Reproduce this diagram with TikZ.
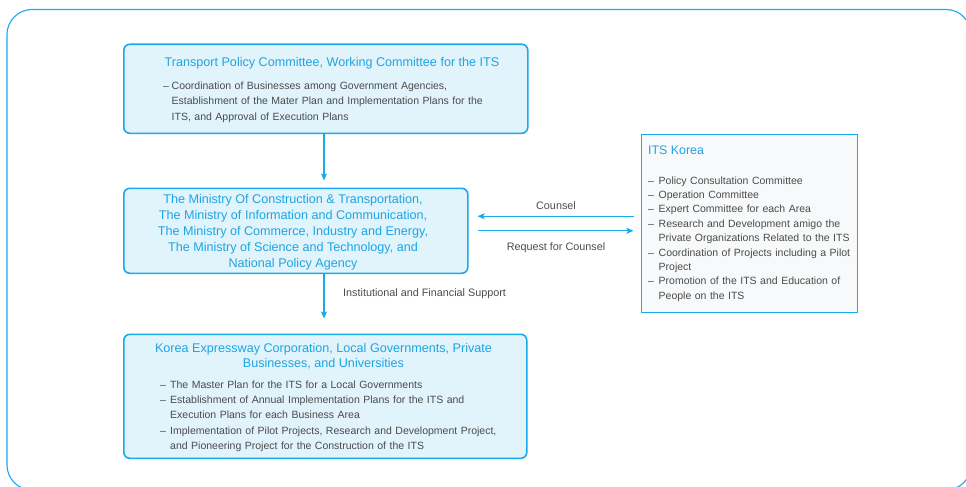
\documentclass[tikz,border=0pt]{standalone}
\usepackage{fontspec}
\setmainfont{Liberation Sans}
\usetikzlibrary{arrows.meta}
\definecolor{itsblue}{RGB}{25,170,235}
\definecolor{titleblue}{RGB}{30,165,228}
\definecolor{boxfill}{RGB}{225,243,251}
\definecolor{greyfill}{RGB}{248,249,250}
\definecolor{bodygrey}{RGB}{75,75,75}
\newlength{\dashind}
\setlength{\dashind}{8.5pt}
\newcommand{\dashitem}[1]{\hangindent=\dashind\hangafter=1\noindent\makebox[\dashind][l]{–}#1\par}
\begin{document}
\begin{tikzpicture}[x=1pt,y=-1pt,
  frame/.style={draw=itsblue, line width=1.1pt, rounded corners=25pt},
  bluebox/.style={draw=itsblue, fill=boxfill, line width=1.6pt, rounded corners=6pt},
  greybox/.style={draw=itsblue, fill=greyfill, line width=1.5pt},
  titletext/.style={text=titleblue, inner sep=0pt},
  bodytext/.style={text=bodygrey, inner sep=0pt, anchor=base west, align=left},
  lbl/.style={text=bodygrey, font=\fontsize{10.8}{13}\selectfont, inner sep=0pt},
  arr/.style={draw=itsblue, line width=1.2pt, -{Stealth[length=7pt,width=6pt,inset=1.5pt]}},
]
\useasboundingbox (0,0) rectangle (966,487);
\clip (0,0) rectangle (966,487);
\draw[frame] (7,9.5) rectangle (971,490);

% boxes
\node[bluebox, minimum width=404pt, minimum height=89pt, anchor=north west] (box1) at (123,43.5) {};
\node[bluebox, minimum width=344pt, minimum height=85pt, anchor=north west] (box2) at (123,187.5) {};
\node[bluebox, minimum width=403pt, minimum height=124pt, anchor=north west] (box4) at (123,333.5) {};
\node[greybox, minimum width=216pt, minimum height=178pt, anchor=north west] (its) at (640.5,133.5) {};

% box1 text
\node[titletext, anchor=base, font=\fontsize{12.6}{16}\selectfont] (t1) at (332,66.5)
  {Transport Policy Committee, Working Committee for the ITS};
\node[bodytext, text width=380pt, font=\fontsize{10.5}{15.5}\selectfont] (b1) at (163,89)
  {\setlength{\dashind}{8.5pt}\dashitem{Coordination of Businesses among Government Agencies,\newline Establishment of the Mater Plan and Implementation Plans for the\newline ITS, and Approval of Execution Plans}};

% box2 text (base anchor = last line)
\node[titletext, anchor=base, align=center, font=\fontsize{12.6}{16}\selectfont] (t2) at (293,267)
  {The Ministry Of Construction \& Transportation,\\
   The Ministry of Information and Communication,\\
   The Ministry of Commerce, Industry and Energy,\\
   The Ministry of Science and Technology, and\\
   National Policy Agency};

% box4 text
\node[titletext, anchor=base, align=center, font=\fontsize{12.6}{15}\selectfont] (t4) at (323.5,367.8)
  {Korea Expressway Corporation, Local Governments, Private\\
   Businesses, and Universities};
\node[bodytext, text width=390pt, font=\fontsize{10.5}{15.4}\selectfont] (b4) at (160,388)
  {\setlength{\dashind}{10pt}%
   \dashitem{The Master Plan for the ITS for a Local Governments}%
   \dashitem{Establishment of Annual Implementation Plans for the ITS and\newline Execution Plans for each Business Area}%
   \dashitem{Implementation of Pilot Projects, Research and Development Project,\newline and Pioneering Project for the Construction of the ITS}};

% ITS Korea text
\node[titletext, anchor=base west, font=\fontsize{12.4}{16}\selectfont] (t3) at (648,154.5) {ITS Korea};
\node[bodytext, text width=205pt, font=\fontsize{10.5}{14.4}\selectfont] (b3) at (648,184)
  {\setlength{\dashind}{10.5pt}%
   \dashitem{Policy Consultation Committee}%
   \dashitem{Operation Committee}%
   \dashitem{Expert Committee for each Area}%
   \dashitem{Research and Development amigo the\newline Private Organizations Related to the ITS}%
   \dashitem{Coordination of Projects including a Pilot\newline Project}%
   \dashitem{Promotion of the ITS and Education of\newline People on the ITS}};

% connectors
\coordinate (spine) at (324,0);
\draw[arr, shorten >=7pt] (spine |- box1.south) -- (spine |- box2.north);
\draw[arr, shorten >=15pt] (spine |- box2.south) -- (spine |- box4.north);
\draw[arr, shorten <=7pt, shorten >=9pt] ([yshift=7pt]its.west) -- ([yshift=7pt]its.west -| box2.east);
\draw[arr, shorten <=9pt, shorten >=7pt] ([yshift=-7.5pt]its.west -| box2.east) -- ([yshift=-7.5pt]its.west);

% labels
\node[lbl, anchor=base] (lc) at (556,209) {Counsel};
\node[lbl, anchor=base] (lr) at (556,250.5) {Request for Counsel};
\node[lbl, anchor=base west] (lf) at (343,296.5) {Institutional and Financial Support};
\end{tikzpicture}
\end{document}
